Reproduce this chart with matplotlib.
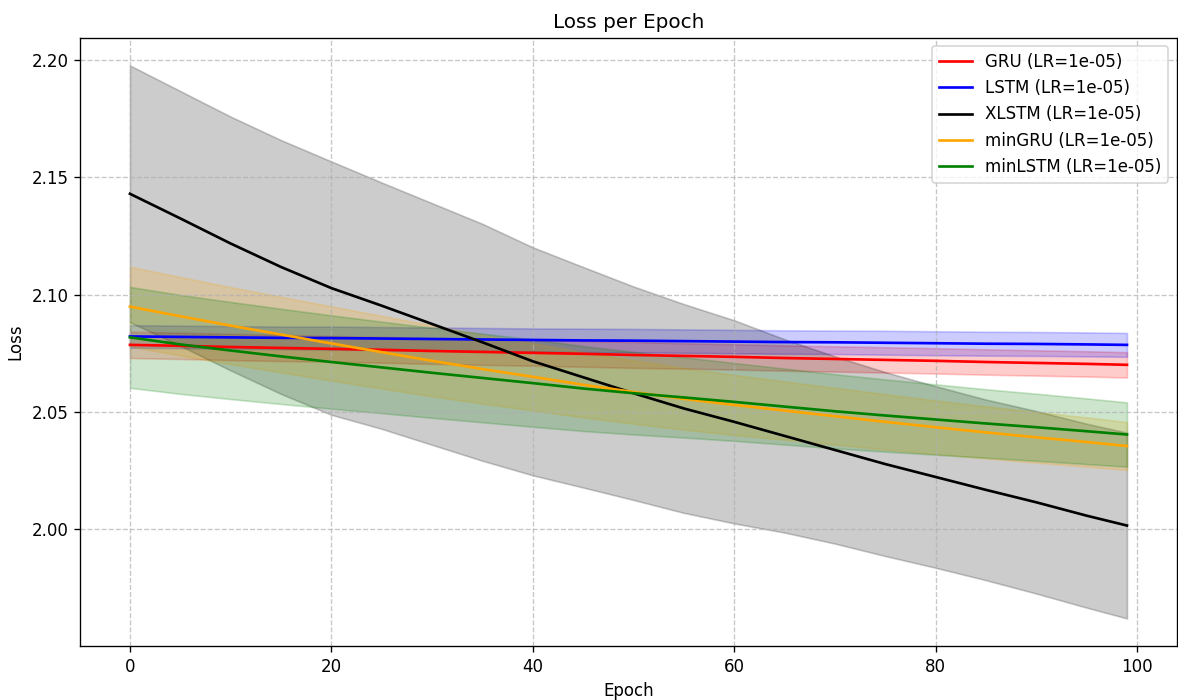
import matplotlib
matplotlib.use("Agg")
from matplotlib import pyplot as plt
import numpy as np

epochs = [0, 5, 10, 15, 20, 25, 30, 35, 40, 45, 50, 55, 60, 65, 70, 75, 80, 85, 90, 95, 99]

# GRU
gru_mean = [2.0786, 2.0782, 2.0777, 2.0773, 2.0769, 2.0765, 2.0760, 2.0756, 2.0752, 2.0748, 2.0743,
            2.0739, 2.0735, 2.0730, 2.0726, 2.0722, 2.0718, 2.0713, 2.0709, 2.0705, 2.0701]
gru_std = [0.0056, 0.0056, 0.0056, 0.0056, 0.0055, 0.0055, 0.0055, 0.0055, 0.0055, 0.0055, 0.0055,
           0.0054, 0.0054, 0.0054, 0.0054, 0.0054, 0.0054, 0.0054, 0.0054, 0.0054, 0.0054]

# LSTM
lstm_mean = [2.0822, 2.0820, 2.0818, 2.0816, 2.0815, 2.0813, 2.0811, 2.0809, 2.0807, 2.0805, 2.0804,
             2.0802, 2.0800, 2.0798, 2.0797, 2.0795, 2.0793, 2.0791, 2.0790, 2.0788, 2.0786]
lstm_std = [0.0048, 0.0048, 0.0048, 0.0048, 0.0049, 0.0049, 0.0049, 0.0049, 0.0049, 0.0050, 0.0050,
            0.0050, 0.0050, 0.0050, 0.0050, 0.0051, 0.0051, 0.0051, 0.0051, 0.0051, 0.0051]

# XLSTM
xlstm_mean = [2.1430, 2.1325, 2.1218, 2.1118, 2.1028, 2.0953, 2.0875, 2.0797, 2.0716, 2.0648, 2.0580,
              2.0515, 2.0458, 2.0398, 2.0338, 2.0278, 2.0223, 2.0168, 2.0115, 2.0058, 2.0016]
xlstm_std = [0.0547, 0.0543, 0.0541, 0.0541, 0.0540, 0.0525, 0.0515, 0.0505, 0.0486, 0.0470, 0.0455,
             0.0445, 0.0433, 0.0412, 0.0399, 0.0392, 0.0387, 0.0385, 0.0389, 0.0392, 0.0396]

# minGRU
mingru_mean = [2.0949, 2.0908, 2.0868, 2.0830, 2.0792, 2.0755, 2.0718, 2.0683, 2.0650, 2.0616, 2.0585,
               2.0556, 2.0530, 2.0506, 2.0482, 2.0458, 2.0435, 2.0413, 2.0392, 2.0372, 2.0355]
mingru_std = [0.0170, 0.0167, 0.0164, 0.0161, 0.0158, 0.0155, 0.0151, 0.0147, 0.0143, 0.0139, 0.0135,
              0.0131, 0.0128, 0.0124, 0.0121, 0.0118, 0.0114, 0.0111, 0.0108, 0.0105, 0.0102]

# minLSTM
minlstm_mean = [2.0818, 2.0788, 2.0762, 2.0737, 2.0713, 2.0690, 2.0667, 2.0645, 2.0623, 2.0600, 2.0580,
                2.0562, 2.0543, 2.0523, 2.0503, 2.0485, 2.0468, 2.0451, 2.0435, 2.0418, 2.0404]
minlstm_std = [0.0215, 0.0211, 0.0207, 0.0203, 0.0199, 0.0195, 0.0192, 0.0189, 0.0186, 0.0181, 0.0176,
               0.0171, 0.0166, 0.0162, 0.0158, 0.0154, 0.0150, 0.0146, 0.0143, 0.0140, 0.0137]

models = ["GRU", "LSTM", "XLSTM", "minGRU", "minLSTM"]
colors = ["red", "blue", "black", "orange", "green"]
means = [gru_mean, lstm_mean, xlstm_mean, mingru_mean, minlstm_mean]
stds = [gru_std, lstm_std, xlstm_std, mingru_std, minlstm_std]
lr = "1e-05"

fig, ax = plt.subplots(figsize=(1178 / 120, 700 / 120), dpi=120)
fig.subplots_adjust(left=0.068, right=0.999, top=0.946, bottom=0.077)

x = np.array(epochs)
for name, color, m, s in zip(models, colors, means, stds):
    m = np.array(m)
    s = np.array(s)
    ax.plot(x, m, color=color, linewidth=1.6, label=f"{name} (LR={lr})")
    ax.fill_between(x, m - s, m + s, color=color, alpha=0.2)

ax.set_title("Loss per Epoch")
ax.set_xlabel("Epoch")
ax.set_ylabel("Loss")
ax.grid(True, linestyle="--", alpha=0.7)
ax.legend(loc="upper right")

fig.savefig("out.png", dpi=120)
